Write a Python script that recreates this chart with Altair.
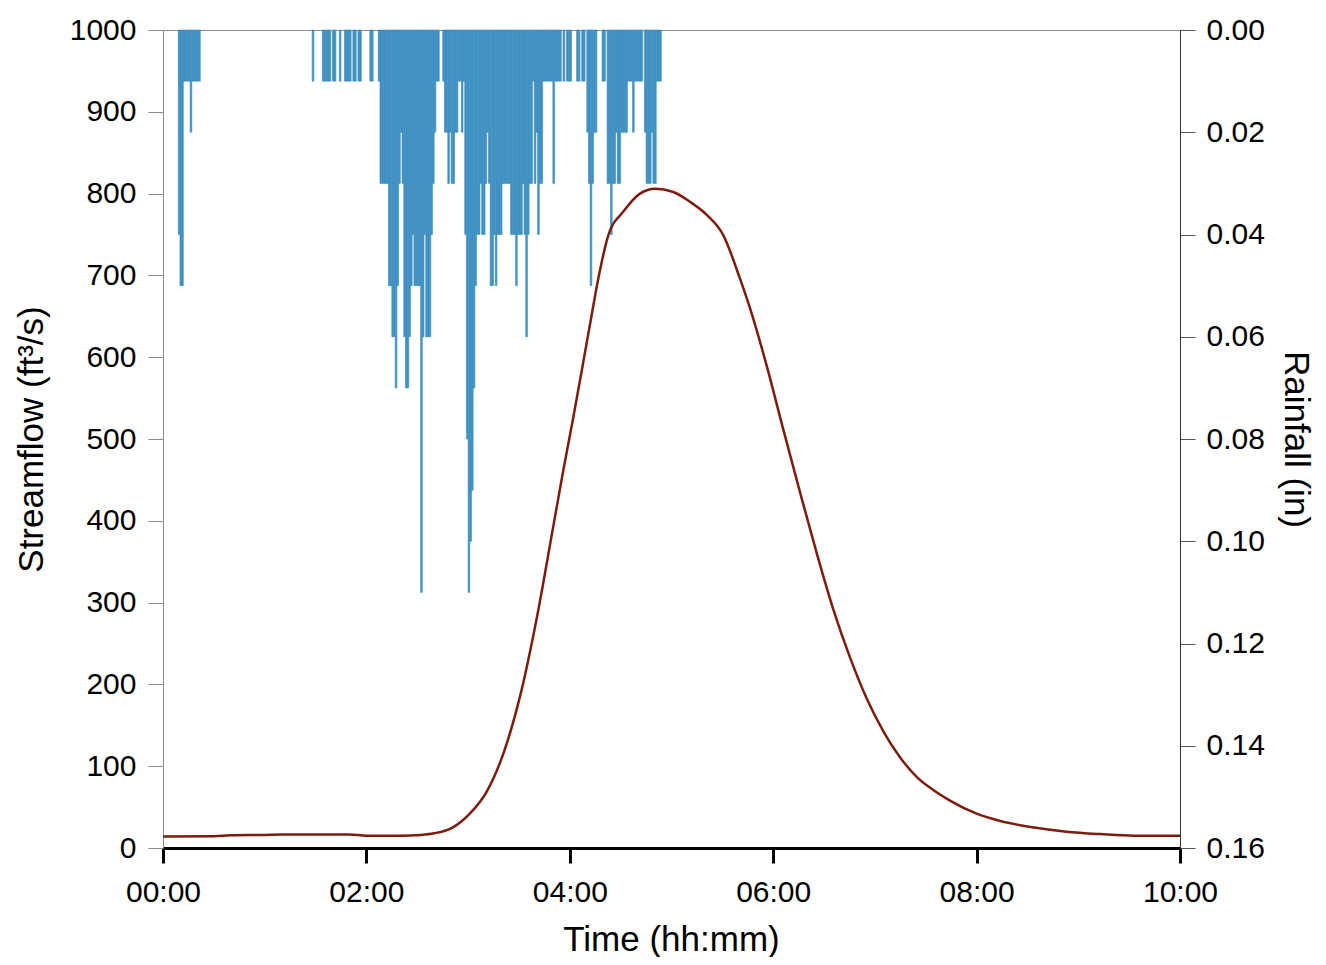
import altair as alt
import pandas as pd

# ---- rainfall (inches per minute), minute index from 00:00 ----
rain_minute = [
    9, 10, 11, 12, 13, 14, 15, 16, 17, 18, 19, 20, 21,
    88, 94, 95, 96, 97, 98, 100, 101, 104, 107, 108, 109, 110, 112, 113, 115, 116, 122, 123,
    127, 128, 129, 130, 131, 132, 133, 134, 135, 136, 137, 138, 139, 140, 141, 142, 143, 144,
    145, 146, 147, 148, 149, 150, 151, 152, 153, 154, 155, 156, 157, 158, 159, 160, 161, 162,
    165, 166, 167, 168, 169, 170, 171, 172, 173, 174, 175, 176, 177, 178, 179, 180, 181, 182,
    183, 184, 185, 186, 187, 188, 189, 190, 191, 192, 193, 194, 195, 196, 197, 198, 199, 200,
    201, 202, 203, 204, 205, 206, 207, 208, 209, 210, 211, 212, 213, 214, 215, 216, 217, 218,
    219, 220, 221, 222, 223, 224, 225, 226, 227, 228, 229, 230, 231, 232, 233, 234, 236, 238,
    239, 240, 244, 245, 247, 248, 250, 251, 252, 253, 254, 255, 259, 260, 262, 263, 264, 265,
    266, 267, 268, 269, 270, 271, 272, 273, 274, 275, 276, 277, 278, 279, 280, 281, 282, 284,
    285, 286, 287, 288, 289, 290, 291, 292, 293,
]
rain_inches = [
    0.04, 0.05, 0.05, 0.01, 0.01, 0.01, 0.01, 0.02, 0.01, 0.01, 0.01, 0.01, 0.01,
    0.01, 0.01, 0.01, 0.01, 0.01, 0.01, 0.01, 0.01, 0.01, 0.01, 0.01, 0.01, 0.01, 0.01, 0.01, 0.01, 0.01, 0.01, 0.01,
    0.01, 0.03, 0.03, 0.03, 0.03, 0.03, 0.05, 0.05, 0.06, 0.06, 0.07, 0.05, 0.03, 0.02, 0.03, 0.06, 0.07, 0.07,
    0.06, 0.05, 0.04, 0.05, 0.05, 0.05, 0.05, 0.11, 0.06, 0.04, 0.06, 0.06, 0.06, 0.04, 0.03, 0.02, 0.01, 0.01,
    0.01, 0.02, 0.02, 0.03, 0.02, 0.03, 0.03, 0.02, 0.02, 0.01, 0.01, 0.02, 0.01, 0.04, 0.08, 0.11, 0.10, 0.09,
    0.07, 0.05, 0.04, 0.04, 0.03, 0.04, 0.04, 0.03, 0.02, 0.03, 0.05, 0.05, 0.04, 0.05, 0.04, 0.04, 0.04, 0.03,
    0.03, 0.03, 0.03, 0.03, 0.04, 0.04, 0.04, 0.05, 0.04, 0.04, 0.04, 0.03, 0.04, 0.06, 0.04, 0.03, 0.03, 0.01,
    0.03, 0.02, 0.04, 0.03, 0.03, 0.01, 0.01, 0.01, 0.01, 0.01, 0.01, 0.03, 0.01, 0.01, 0.01, 0.01, 0.01, 0.01,
    0.01, 0.01, 0.01, 0.01, 0.01, 0.01, 0.02, 0.03, 0.05, 0.03, 0.02, 0.02, 0.01, 0.01, 0.03, 0.03, 0.04, 0.03,
    0.03, 0.02, 0.03, 0.03, 0.02, 0.02, 0.02, 0.02, 0.01, 0.01, 0.01, 0.02, 0.01, 0.01, 0.01, 0.01, 0.01, 0.02,
    0.03, 0.03, 0.03, 0.02, 0.03, 0.03, 0.01, 0.01, 0.01,
]

# ---- streamflow (ft3/s), minute index from 00:00 ----
flow_minute = [0, 30, 40, 60, 70, 110, 120, 140, 152, 160, 170, 181, 191, 200.9, 210.7, 220.5,
               230.4, 236.2, 242.1, 247.0, 251.9, 256.8, 262.7, 271.6, 281.4, 290.3, 301.1,
               310.9, 320.8, 330.6, 340.4, 346.3, 356.1, 365.9, 375.8, 385.6, 395.4, 405.3,
               415.1, 424.9, 434.8, 444.6, 454.4, 464.3, 480, 494, 514, 533, 553, 573, 600]
flow_cfs = [14, 14.5, 15.5, 16, 16.5, 16.5, 15, 15, 16, 18, 24, 42, 69, 116, 186, 281,
            395, 462, 527, 583, 640, 696, 749, 778, 800, 806, 802,
            790, 774, 749, 696, 660, 590, 512, 435, 361, 292, 233,
            183, 143, 111, 87, 71, 58, 42, 33, 25, 20, 17, 15, 15]

time_tick_minutes = [0, 120, 240, 360, 480, 600]
time_tick_labels = ["00:00", "02:00", "04:00", "06:00", "08:00", "10:00"]
flow_ticks = [0, 100, 200, 300, 400, 500, 600, 700, 800, 900, 1000]
rain_ticks = [0.00, 0.02, 0.04, 0.06, 0.08, 0.10, 0.12, 0.14, 0.16]

rain_df = pd.DataFrame({"start": rain_minute, "rain": rain_inches})
rain_df["end"] = rain_df["start"] + 1
rain_df["zero"] = 0.0
flow_df = pd.DataFrame({"minute": flow_minute, "flow": flow_cfs})

FONT = "Liberation Sans"
label_expr = "[" + ",".join("'%s'" % s for s in time_tick_labels) + "][round(datum.value/120)]"

x_scale = alt.Scale(domain=[0, 600], nice=False, zero=False)


def x_axis():
    return alt.Axis(values=time_tick_minutes, labelExpr=label_expr, title="Time (hh:mm)",
                    domainColor="black", domainWidth=3, tickColor="black", tickWidth=3,
                    tickSize=15, labelPadding=14, labelFlush=False,
                    titleX=508, titleY=91, titleAlign="center", titleBaseline="middle")


bars = alt.Chart(rain_df).mark_rect(
    color="#4195c7", stroke="#3d8abb", strokeWidth=0.6
).encode(
    x=alt.X("start:Q", scale=x_scale, axis=x_axis()),
    x2="end:Q",
    y=alt.Y("rain:Q",
            scale=alt.Scale(domain=[0, 0.16], reverse=True, nice=False, zero=False),
            axis=alt.Axis(orient="right", values=rain_ticks, format=".2f", title="Rainfall (in)",
                          domainColor="#333333", tickColor="#555555", tickSize=15,
                          labelPadding=11, labelFlush=False,
                          titleAngle=90, titleX=115, titleY=409, titleAlign="center",
                          titleBaseline="middle")),
    y2="zero:Q",
)

line = alt.Chart(flow_df).mark_line(color="#7d1c0d", strokeWidth=2.5, interpolate="monotone").encode(
    x=alt.X("minute:Q", scale=x_scale, axis=x_axis()),
    y=alt.Y("flow:Q", scale=alt.Scale(domain=[0, 1000], nice=False),
            axis=alt.Axis(orient="left", values=flow_ticks, format="d",
                          title="Streamflow (ft³/s)",
                          domainColor="#8a8a8a", tickColor="#8a8a8a", tickSize=15,
                          labelPadding=12, labelFlush=False,
                          titleAngle=-90, titleX=-132, titleY=409, titleAlign="center",
                          titleBaseline="middle")),
)

chart = alt.layer(bars, line).resolve_scale(y="independent").properties(
    width=1017, height=818,
    autosize=alt.AutoSizeParams(type="none"),
    padding={"left": 155, "top": 22, "right": 138, "bottom": 109},
).configure_view(stroke="#8a8a8a", strokeWidth=1).configure_axis(
    grid=False, labelFont=FONT, titleFont=FONT, labelFontSize=30, titleFontSize=35,
    titleFontWeight="normal", labelColor="black", titleColor="black",
)

chart.save("out.html", embed_options={"renderer": "svg", "actions": False})
